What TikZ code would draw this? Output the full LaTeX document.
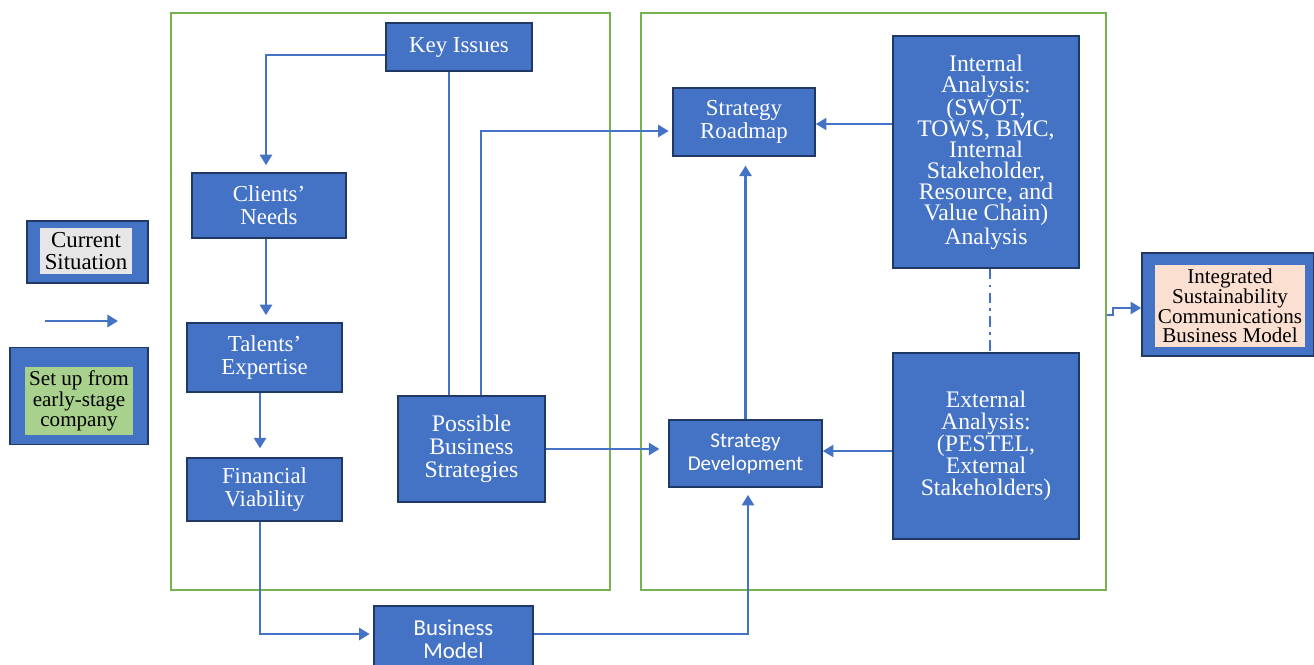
\documentclass[tikz,border=0pt]{standalone}
\usepackage{fontspec}
\setmainfont{Liberation Serif}
\newfontfamily\calibrifont{Carlito}
\usetikzlibrary{arrows.meta}
\definecolor{boxblue}{HTML}{4472C4}
\definecolor{boxedge}{HTML}{1F3864}
\definecolor{framegreen}{HTML}{77B150}
\definecolor{paleGray}{HTML}{E7E6E6}
\definecolor{paleGreen}{HTML}{A9D18E}
\definecolor{palePeach}{HTML}{FBE0D2}

\begin{document}
\begin{tikzpicture}[x=0.02cm, y=-0.02cm,
	blockbox/.style={rectangle, fill=boxblue, draw=boxedge, line width=1pt, text=white, align=center, inner sep=0pt, font=\fontsize{13}{13}\selectfont},
	innerbox/.style={rectangle, draw=none, text=black, align=center, inner sep=0pt, font=\fontsize{13}{12.5}\selectfont},
	frame/.style={rectangle, draw=framegreen, line width=1.4pt, minimum height=11.54cm},
	link/.style={draw=boxblue, line width=1.2pt, -{Triangle[width=7pt,length=6pt]}},
	thinlink/.style={draw=boxblue, line width=0.6pt, -{Triangle[width=7pt,length=6pt]}},
	plainlink/.style={draw=boxblue, line width=1.2pt}]
	\useasboundingbox (0,0) rectangle (1314,664);
	% the two green frames
	\node[frame, minimum width=8.78cm] (leftframe) at (390.5,301.5) {};
	\node[frame, minimum width=9.3cm] (rightframe) at (873.5,301.5) {};
	% legend
	\node[blockbox, minimum width=2.42cm, minimum height=1.24cm] (cur) at (87.5,252) {};
	\node[innerbox, fill=paleGray, minimum width=1.84cm, minimum height=0.92cm] (curtext) at (86,251) {Current\\Situation};
	\coordinate (legfrom) at (45,321);
	\coordinate (legto) at (118,321);
	\draw[link] (legfrom) -- (legto);
	\node[blockbox, minimum width=2.76cm, minimum height=1.94cm] (setup) at (79,396) {};
	\node[innerbox, fill=paleGreen, minimum width=2.16cm, minimum height=1.36cm, font=\fontsize{12}{11.5}\selectfont] (setuptext) at (79,401) {Set up from\\early-stage\\company};
	% left frame boxes
	\node[blockbox, minimum width=2.92cm, minimum height=0.96cm] (keyiss) at (459,47) {Key Issues};
	\node[blockbox, minimum width=3.08cm, minimum height=1.3cm] (clients) at (269,205.5) {Clients’\\Needs};
	\node[blockbox, minimum width=3.1cm, minimum height=1.38cm] (talents) at (264.5,357.5) {Talents’\\Expertise};
	\node[blockbox, minimum width=3.1cm, minimum height=1.26cm] (financial) at (264.5,489.5) {Financial\\Viability};
	\node[blockbox, minimum width=2.94cm, minimum height=2.12cm, font=\fontsize{13.5}{13}\selectfont] (possible) at (471.5,449) {Possible\\Business\\Strategies};
	\node[blockbox, minimum width=3.18cm, minimum height=1.32cm, font=\calibrifont\fontsize{13}{13}\selectfont] (bizmodel) at (453.5,639) {Business\\Model};
	% right frame boxes
	\node[blockbox, minimum width=2.84cm, minimum height=1.36cm] (roadmap) at (744,122) {Strategy\\Roadmap};
	\node[blockbox, minimum width=3.06cm, minimum height=1.34cm, font=\calibrifont\fontsize{12}{13}\selectfont] (stratdev) at (745.5,453.5) {Strategy\\Development};
	\node[blockbox, minimum width=3.72cm, minimum height=4.64cm, font=\fontsize{13.5}{12}\selectfont] (internal) at (986,152) {Internal\\Analysis:\\(SWOT,\\TOWS, BMC,\\Internal\\Stakeholder,\\Resource, and\\Value Chain)\\Analysis};
	\node[blockbox, minimum width=3.72cm, minimum height=3.72cm, font=\fontsize{13.5}{12.5}\selectfont] (external) at (986,446) {External\\Analysis:\\(PESTEL,\\External\\Stakeholders)};
	% outcome
	\node[blockbox, minimum width=3.44cm, minimum height=2.06cm] (integ) at (1228,304.5) {};
	\node[innerbox, fill=palePeach, minimum width=3cm, minimum height=1.64cm, font=\fontsize{12}{11.2}\selectfont] (integtext) at (1230,306) {Integrated\\Sustainability\\Communications\\Business Model};
	% connectors
	\draw[link, shorten >=4pt] ([yshift=-0.16cm]keyiss.west) -| ([xshift=-0.06cm]clients.north);
	\draw[link, shorten >=4pt] ([xshift=-0.06cm]clients.south) -- ([xshift=-0.06cm]clients.south |- talents.north);
	\draw[link, shorten >=5pt] ([xshift=-0.09cm]talents.south) -- ([xshift=-0.09cm]talents.south |- financial.north);
	\draw[plainlink] ([xshift=-0.2cm]keyiss.south) -- ([xshift=-0.2cm]keyiss.south |- possible.north);
	\draw[link, shorten >=2pt] ([xshift=0.19cm]possible.north) |- ([yshift=-0.18cm]roadmap.west);
	\draw[link, shorten >=5pt] (possible.east) -- (possible.east -| stratdev.west);
	\draw[link, shorten >=2pt] ([xshift=-0.09cm]financial.south) |- ([yshift=0.1cm]bizmodel.west);
	\draw[link, shorten >=4pt] ([yshift=0.1cm]bizmodel.east) -| ([xshift=0.05cm]stratdev.south);
	\draw[link, shorten >=5pt] (stratdev.north) -- (stratdev.north |- roadmap.south);
	\draw[thinlink] ([yshift=-0.04cm]internal.west |- roadmap.east) -- ([yshift=-0.04cm]roadmap.east);
	\draw[thinlink] ([yshift=0.05cm]external.west |- stratdev.east) -- ([yshift=0.05cm]stratdev.east);
	\draw[plainlink, line width=1pt, dash pattern=on 6pt off 3pt on 1.5pt off 3pt] ([xshift=0.08cm]internal.south) -- ([xshift=0.08cm]external.north);
	\coordinate (stepa) at (1113,315);
	\draw[link, line width=1pt] (rightframe.east |- stepa) -- (stepa) |- ([yshift=-0.07cm]integ.west);
\end{tikzpicture}
\end{document}
